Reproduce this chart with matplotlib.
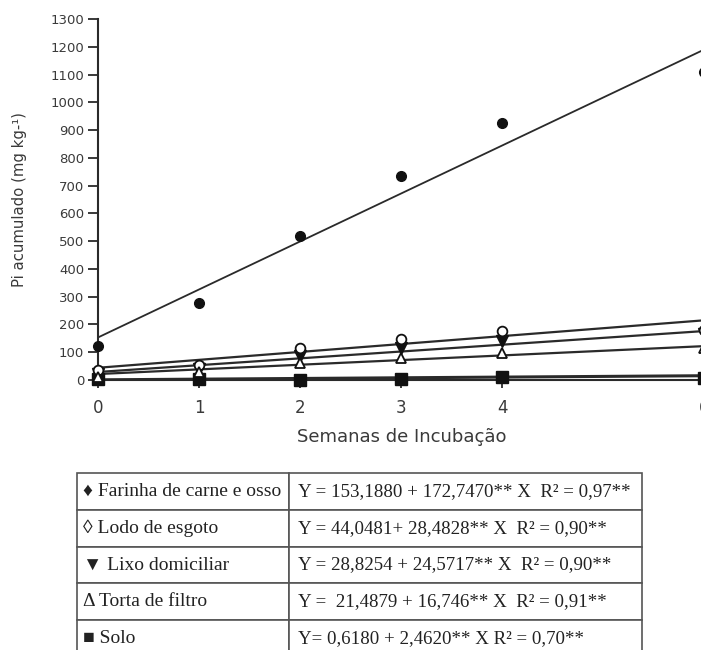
import matplotlib
matplotlib.use("Agg")
import matplotlib.pyplot as plt
import numpy as np

# ---- data ----
semanas = [0, 1, 2, 3, 4, 6]
farinha = [122, 278, 517, 735, 925, 1108]
lodo = [36, 54, 115, 148, 177, 180]
lixo = [22, 40, 85, 115, 140, 165]
torta = [12, 30, 62, 80, 98, 117]
solo = [3, 2, 1, 2, 10, 8]

# regression coefficients (intercept, slope)
coef_farinha = (153.1880, 172.7470)
coef_lodo = (44.0481, 28.4828)
coef_lixo = (28.8254, 24.5717)
coef_torta = (21.4879, 16.746)
coef_solo = (0.6180, 2.4620)

xticks = [0, 1, 2, 3, 4, 6]
yticks = list(range(0, 1400, 100))

table_left = ["\u2666 Farinha de carne e osso", "\u25ca Lodo de esgoto",
              "\u25bc Lixo domiciliar", "\u0394 Torta de filtro", "\u25a0 Solo"]
table_right = ["Y = 153,1880 + 172,7470** X  R\u00b2 = 0,97**",
               "Y = 44,0481+ 28,4828** X  R\u00b2 = 0,90**",
               "Y = 28,8254 + 24,5717** X  R\u00b2 = 0,90**",
               "Y =  21,4879 + 16,746** X  R\u00b2 = 0,91**",
               "Y= 0,6180 + 2,4620** X R\u00b2 = 0,70**"]

W, H = 701, 650
fig = plt.figure(figsize=(W / 100, H / 100), dpi=100)
fig.patch.set_facecolor("white")

ax = fig.add_axes([98 / W, 1 - 380 / H, (704 - 98) / W, (380 - 19) / H])
ax.set_xlim(0, 6)
ax.set_ylim(0, 1300)

lc = "#2a2a2a"
xx = np.array([0, 6])
for (a, b), lw in [(coef_farinha, 1.3), (coef_lodo, 1.6), (coef_lixo, 1.6),
                   (coef_torta, 1.6), (coef_solo, 2.2)]:
    ax.plot(xx, a + b * xx, color=lc, lw=lw, zorder=2)

ax.plot(semanas, farinha, "o", ms=7, color="#111", clip_on=False, zorder=3)
ax.plot(semanas, lodo, "o", ms=7, mfc="white", mec="#111", mew=1.3, clip_on=False, zorder=4)
ax.plot(semanas, lixo, "v", ms=8, color="#111", clip_on=False, zorder=3)
ax.plot(semanas, torta, "^", ms=7, mfc="white", mec="#111", mew=1.3, clip_on=False, zorder=4)
ax.plot(semanas, solo, "s", ms=8, color="#111", clip_on=False, zorder=3)

ax.set_xticks(xticks)
ax.set_yticks(yticks)
tc = "#3a3a3a"
ax.tick_params(axis="y", direction="out", length=7, width=1.3, color=lc,
               labelsize=9.5, labelcolor=tc, pad=3)
ax.tick_params(axis="x", direction="out", length=6, width=1.3, color=lc,
               labelsize=12, labelcolor=tc, pad=8)
for lab in ax.get_xticklabels() + ax.get_yticklabels():
    lab.set_fontfamily("DejaVu Sans")
for s in ["top", "right"]:
    ax.spines[s].set_visible(False)
ax.spines["left"].set_linewidth(1.5)
ax.spines["left"].set_color(lc)
ax.spines["bottom"].set_linewidth(1.5)
ax.spines["bottom"].set_color(lc)
ax.patch.set_alpha(0)

ax.set_xlabel("Semanas de Incubação", fontsize=13, color=tc,
              family="DejaVu Sans")
ax.xaxis.set_label_coords((402 - 98) / (704 - 98), -(428 - 380) / (380 - 19))
ax.set_ylabel("Pi acumulado (mg kg-\u00b9)", fontsize=10.7, color=tc,
              family="DejaVu Sans")
ax.yaxis.set_label_coords(-(98 - 27) / (704 - 98), (380 - 200) / (380 - 19))

# ---- table ----
tax = fig.add_axes([77 / W, 1 - 657 / H, (642 - 77) / W, (657 - 473) / H])
tax.axis("off")
cells = [[l, r] for l, r in zip(table_left, table_right)]
tbl = tax.table(cellText=cells, cellLoc="left", bbox=[0, 0, 1, 1],
                colWidths=[212, 353])
tbl.auto_set_font_size(False)
for (r, c), cell in tbl.get_celld().items():
    cell.set_edgecolor("#555")
    cell.set_linewidth(1.2)
    cell.PAD = 0.03 if c == 0 else 0.025
    t = cell.get_text()
    t.set_fontsize(14 if c == 0 else 13.6)
    t.set_fontfamily(["Liberation Serif", "DejaVu Serif"])
    t.set_color("#222")

fig.savefig("out.png", dpi=100, facecolor="white")
